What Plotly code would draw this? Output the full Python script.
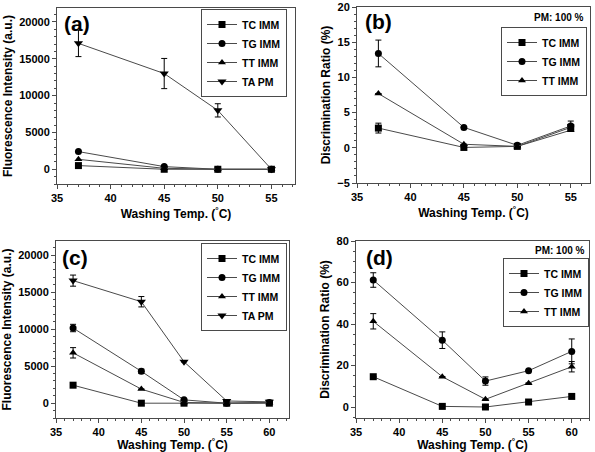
import plotly.graph_objects as go

# ---------------- data ----------------
temps_ab = [37, 45, 50, 55]
temps_cd = [37, 45, 50, 55, 60]

# (a) fluorescence intensity
a_tc = [500, 0, 0, 0]
a_tg = [2400, 360, 0, 0]
a_tt = [1350, 130, 0, 0]
a_ta = [17100, 13000, 8000, 0]
a_ta_err = [1800, 2050, 900, 0]

# (b) discrimination ratio
b_tc = [2.8, 0.05, 0.2, 2.9]
b_tc_err = [0.7, 0, 0, 0.4]
b_tg = [13.4, 2.9, 0.35, 3.1]
b_tg_err = [1.9, 0, 0, 0.7]
b_tt = [7.7, 0.5, 0.2, 2.5]
b_tt_err = [0, 0, 0, 0]

# (c) fluorescence intensity
c_tc = [2430, 0, 0, 0, 0]
c_tg = [10150, 4300, 450, 0, 100]
c_tg_err = [500, 300, 0, 0, 0]
c_tt = [6800, 1900, 100, 0, 50]
c_tt_err = [700, 0, 0, 0, 0]
c_ta = [16550, 13700, 5600, 300, 180]
c_ta_err = [750, 700, 0, 0, 0]

# (d) discrimination ratio
d_tc = [14.6, 0.3, 0.0, 2.4, 5.1]
d_tc_err = [0, 0, 0, 0, 1.0]
d_tg = [61.2, 32.2, 12.5, 17.5, 26.8]
d_tg_err = [3.5, 4.0, 2.0, 0, 6.0]
d_tt = [41.3, 14.6, 3.7, 11.5, 19.4]
d_tt_err = [3.7, 0, 0, 0, 2.5]

names = ["TC IMM", "TG IMM", "TT IMM", "TA PM"]
symbols = ["square", "circle", "triangle-up", "triangle-down"]

LINE = "#4a4a4a"
FONT = "Liberation Sans, Arial, sans-serif"

fig = go.Figure()


def add(x, y, err, idx, xa, ya, leg):
    kw = {}
    if err is not None:
        kw["error_y"] = dict(type="data", array=err, visible=True, color="black",
                             thickness=1, width=3)
    fig.add_trace(go.Scatter(
        x=x, y=y, mode="lines+markers", name=names[idx],
        line=dict(color=LINE, width=1),
        marker=dict(symbol=symbols[idx], size=7 if idx < 3 else 8, color="black"),
        xaxis=xa, yaxis=ya, legend=leg, **kw))


# panel a
add(temps_ab, a_tc, None, 0, "x", "y", "legend")
add(temps_ab, a_tg, None, 1, "x", "y", "legend")
add(temps_ab, a_tt, None, 2, "x", "y", "legend")
add(temps_ab, a_ta, a_ta_err, 3, "x", "y", "legend")
# panel b
add(temps_ab, b_tc, b_tc_err, 0, "x2", "y2", "legend2")
add(temps_ab, b_tg, b_tg_err, 1, "x2", "y2", "legend2")
add(temps_ab, b_tt, b_tt_err, 2, "x2", "y2", "legend2")
# panel c
add(temps_cd, c_tc, None, 0, "x3", "y3", "legend3")
add(temps_cd, c_tg, c_tg_err, 1, "x3", "y3", "legend3")
add(temps_cd, c_tt, c_tt_err, 2, "x3", "y3", "legend3")
add(temps_cd, c_ta, c_ta_err, 3, "x3", "y3", "legend3")
# panel d
add(temps_cd, d_tc, d_tc_err, 0, "x4", "y4", "legend4")
add(temps_cd, d_tg, d_tg_err, 1, "x4", "y4", "legend4")
add(temps_cd, d_tt, d_tt_err, 2, "x4", "y4", "legend4")

W, H = 595, 452


def px_x(p):
    return p / W


def px_y(p):
    return 1 - p / H


tickfont = dict(family=FONT, size=11, color="black", weight="bold")
titlefont = dict(family=FONT, size=12, color="black", weight="bold")

common_axis = dict(showline=True, linecolor=LINE, linewidth=1, mirror=True,
                   ticks="outside", ticklen=4, tickcolor=LINE, showgrid=False,
                   zeroline=False, tickfont=tickfont, automargin=False,
                   tickformat="d",
                   minor=dict(ticks="outside", ticklen=2, tickcolor=LINE))

xtitle = "Washing Temp. (<sup>°</sup>C)"

layout = dict(
    width=W, height=H, margin=dict(l=0, r=0, t=0, b=0, autoexpand=False),
    paper_bgcolor="white", plot_bgcolor="white", showlegend=True,
    xaxis=dict(domain=[px_x(57), px_x(295)], range=[35, 57.2], dtick=5, anchor="y",
               title=dict(text=xtitle, font=titlefont, standoff=6), **common_axis),
    yaxis=dict(domain=[px_y(184), px_y(8)], range=[-2000, 21900], dtick=5000, anchor="x",
               title=dict(text="Fluorescence Intensity (a.u.)", font=titlefont, standoff=4),
               **common_axis),
    xaxis2=dict(domain=[px_x(357), px_x(590)], range=[35, 56.8], dtick=5, anchor="y2",
                title=dict(text=xtitle, font=titlefont, standoff=6), **common_axis),
    yaxis2=dict(domain=[px_y(183), px_y(7)], range=[-5, 20], dtick=5, anchor="x2",
                title=dict(text="Discrimination Ratio (%)", font=titlefont, standoff=4),
                **common_axis),
    xaxis3=dict(domain=[px_x(56), px_x(289)], range=[35, 62.3], dtick=5, anchor="y3",
                title=dict(text=xtitle, font=titlefont, standoff=6), **common_axis),
    yaxis3=dict(domain=[px_y(418), px_y(241)], range=[-2000, 21900], dtick=5000, anchor="x3",
                title=dict(text="Fluorescence Intensity (a.u.)", font=titlefont, standoff=4),
                **common_axis),
    xaxis4=dict(domain=[px_x(356), px_x(589)], range=[35, 62], dtick=5, anchor="y4",
                title=dict(text=xtitle, font=titlefont, standoff=6), **common_axis),
    yaxis4=dict(domain=[px_y(418), px_y(241)], range=[-5.3, 80], dtick=20, anchor="x4",
                title=dict(text="Discrimination Ratio (%)", font=titlefont, standoff=4),
                **common_axis),
)

legfont = dict(family=FONT, size=10.5, color="black", weight="bold")


def leg(xr, yt):
    return dict(x=px_x(xr), y=px_y(yt), xanchor="right", yanchor="top",
                bgcolor="white", bordercolor=LINE, borderwidth=1, font=legfont,
                tracegroupgap=0, itemwidth=30)


layout["legend"] = leg(287, 9)
layout["legend2"] = leg(587, 27)
layout["legend3"] = leg(287, 243)
layout["legend4"] = leg(589, 258)

fig.update_layout(**layout)

labfont = dict(family=FONT, size=21, color="black", weight="bold")
for txt, xc, yc in [("(a)", 77, 23), ("(b)", 378, 22), ("(c)", 75, 257), ("(d)", 380, 257)]:
    fig.add_annotation(text=txt, x=px_x(xc), y=px_y(yc), xref="paper", yref="paper",
                       showarrow=False, font=labfont, xanchor="center", yanchor="middle")

pmfont = dict(family=FONT, size=10, color="black", weight="bold")
for xr, yc in [(586, 17), (587, 250)]:
    fig.add_annotation(text="PM: 100 %", x=px_x(xr), y=px_y(yc), xref="paper", yref="paper",
                       showarrow=False, font=pmfont, xanchor="right", yanchor="middle")

fig.write_html("out.html", config={"displayModeBar": False},
               post_script="document.body.style.margin='0';document.body.style.overflow='hidden';")
